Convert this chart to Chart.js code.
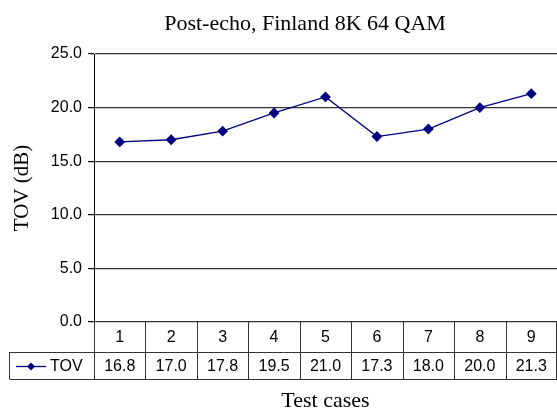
<!DOCTYPE html>
<html>
<head>
<meta charset="utf-8">
<script src="https://cdn.jsdelivr.net/npm/chart.js@4/dist/chart.umd.min.js"></script>
<style>
    html, body { margin: 0; padding: 0; background: #fff; }
    #wrap { width: 557px; height: 410px; }
</style>
</head>
<body>
<div id="wrap"><canvas id="chart" width="557" height="410"></canvas></div>
<script>
// chart data
const categories = ["1", "2", "3", "4", "5", "6", "7", "8", "9"]
const tovValues = [16.8, 17.0, 17.8, 19.5, 21.0, 17.3, 18.0, 20.0, 21.3]
const seriesName = "TOV"
const chartTitle = "Post-echo, Finland 8K 64 QAM"

const navy = "#000080"
const sans = "'Liberation Sans', Arial, sans-serif"
const serif = "'Liberation Serif', 'Times New Roman', serif"

/**
 * Draw the chart title above the plot
 */
const titlePlugin = {
    id: "serifTitle",
    afterDraw(chart) {
        const ctx = chart.ctx
        ctx.save()
        ctx.font = `22px ${serif}`
        ctx.fillStyle = "#000"
        ctx.textAlign = "center"
        ctx.textBaseline = "alphabetic"
        ctx.fillText(chartTitle, 305, 30)
        ctx.restore()
    }
}

/**
 * Draw the data table under the plot, lined up with the category scale
 */
const tablePlugin = {
    id: "dataTable",
    afterDraw(chart) {
        const ctx = chart.ctx
        const x = chart.scales.x
        const area = chart.chartArea
        const labels = chart.data.labels
        const values = chart.data.datasets[0].data
        const half = (x.right - x.left) / labels.length / 2
        const rowTop = area.bottom
        const rowMid = rowTop + 30
        const rowBot = rowMid + 27
        const legendLeft = 9.5

        ctx.save()
        ctx.strokeStyle = "#333"
        ctx.lineWidth = 1
        ctx.beginPath()
        // horizontal lines
        ctx.moveTo(legendLeft, rowMid + 0.5)
        ctx.lineTo(x.right, rowMid + 0.5)
        ctx.moveTo(legendLeft, rowBot + 0.5)
        ctx.lineTo(x.right, rowBot + 0.5)
        // vertical lines
        ctx.moveTo(legendLeft, rowMid)
        ctx.lineTo(legendLeft, rowBot)
        ctx.moveTo(Math.round(x.left) + 0.5, rowTop)
        ctx.lineTo(Math.round(x.left) + 0.5, rowBot)
        labels.forEach((_, i) => {
            const edge = Math.min(Math.round(x.getPixelForValue(i) + half) + 0.5, x.right - 0.5)
            ctx.moveTo(edge, rowTop)
            ctx.lineTo(edge, rowBot)
        })
        ctx.stroke()

        ctx.fillStyle = "#000"
        ctx.font = `16px ${sans}`
        ctx.textAlign = "center"
        ctx.textBaseline = "middle"
        labels.forEach((label, i) => {
            const cx = x.getPixelForValue(i)
            ctx.fillText(label, cx, rowTop + 16)
            ctx.fillText(values[i].toFixed(1), cx, rowMid + 15)
        })

        // legend entry
        const ly = rowMid + 14.5
        ctx.strokeStyle = navy
        ctx.lineWidth = 1.3
        ctx.beginPath()
        ctx.moveTo(16, ly)
        ctx.lineTo(46, ly)
        ctx.stroke()
        ctx.fillStyle = navy
        ctx.beginPath()
        ctx.moveTo(31, ly - 4)
        ctx.lineTo(35, ly)
        ctx.lineTo(31, ly + 4)
        ctx.lineTo(27, ly)
        ctx.closePath()
        ctx.fill()
        ctx.fillStyle = "#000"
        ctx.textAlign = "left"
        ctx.fillText(seriesName, 50, ly + 0.5)
        ctx.restore()
    }
}

new Chart(document.getElementById("chart"), {
    type: "line",
    data: {
        labels: categories,
        datasets: [{
            label: seriesName,
            data: tovValues,
            borderColor: navy,
            backgroundColor: navy,
            borderWidth: 1.3,
            pointStyle: "rectRot",
            pointRadius: 4.5,
            pointHoverRadius: 4.5,
            tension: 0
        }]
    },
    options: {
        responsive: false,
        animation: false,
        layout: { autoPadding: false, padding: { top: 54, right: 0, left: 0, bottom: 0 } },
        plugins: {
            legend: { display: false },
            title: { display: false },
            tooltip: { enabled: false }
        },
        scales: {
            x: {
                type: "category",
                offset: true,
                grid: { display: false },
                border: { display: false },
                ticks: { display: false },
                title: {
                    display: true,
                    text: "Test cases",
                    color: "#000",
                    font: { family: serif, size: 22, lineHeight: 1 },
                    padding: { top: 0, bottom: -2 }
                },
                afterFit(scale) { scale.height = 88 }
            },
            y: {
                min: 0,
                max: 25,
                ticks: {
                    stepSize: 5,
                    color: "#000",
                    padding: 6,
                    font: { family: sans, size: 16 },
                    callback: v => v.toFixed(1)
                },
                grid: {
                    color: "#333",
                    lineWidth: 1.2,
                    tickLength: 6,
                    tickColor: "#000"
                },
                border: { color: "#000", width: 1 },
                title: {
                    display: true,
                    text: "TOV (dB)",
                    color: "#000",
                    font: { family: serif, size: 21, lineHeight: 1 },
                    padding: { top: 12, bottom: 0 }
                },
                afterFit(scale) { scale.width = 94 }
            }
        }
    },
    plugins: [titlePlugin, tablePlugin]
})
</script>
</body>
</html>
